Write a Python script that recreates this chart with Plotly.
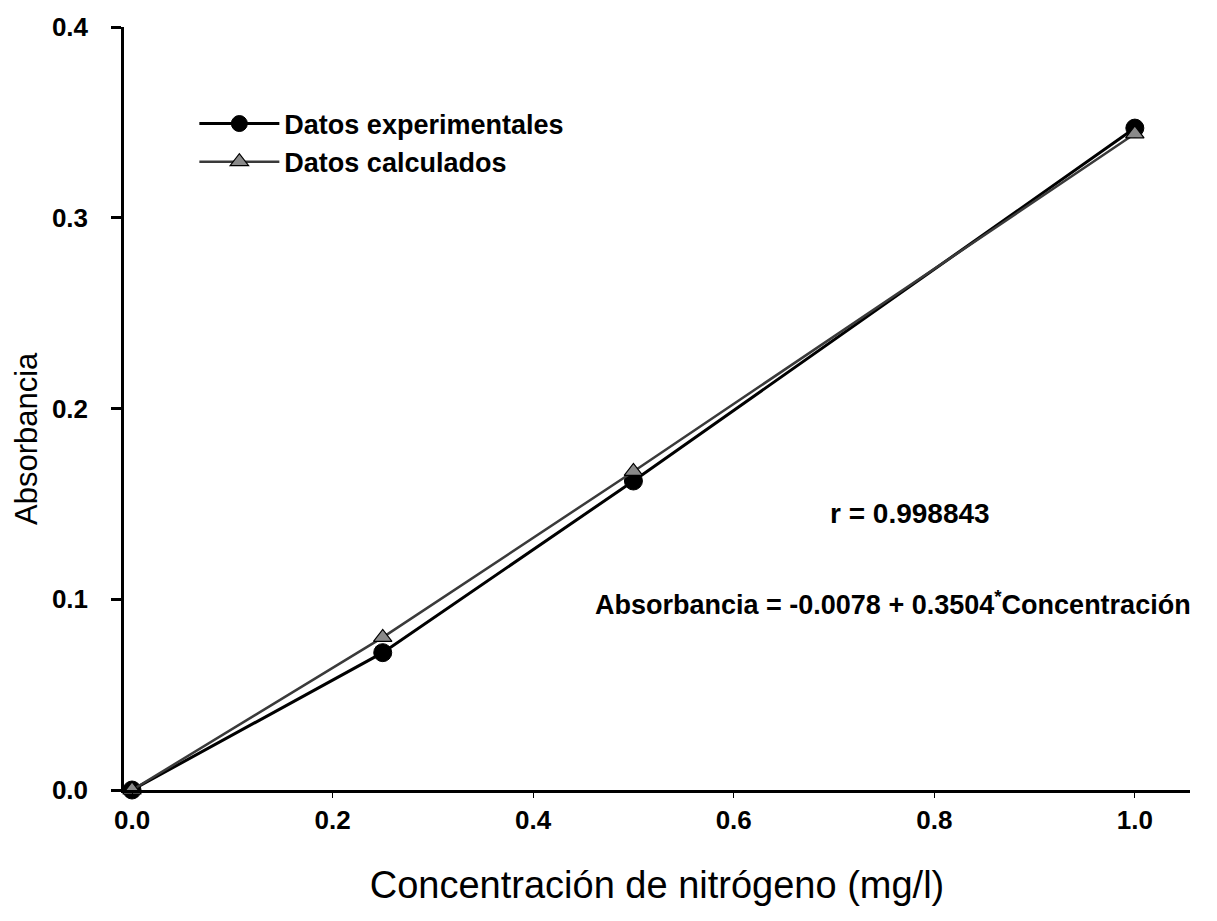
import plotly.graph_objects as go

# Calibration data: nitrogen concentration vs. absorbance
concentracion = [0.0, 0.25, 0.5, 1.0]
abs_experimental = [0.0, 0.072, 0.162, 0.347]
abs_calculada = [0.0, 0.080, 0.167, 0.344]

x_ticks = [0.0, 0.2, 0.4, 0.6, 0.8, 1.0]
y_ticks = [0.0, 0.1, 0.2, 0.3, 0.4]

texto_r = "r = 0.998843"
texto_ecuacion = "Absorbancia = -0.0078 + 0.3504<sup>*</sup>Concentración"

FONT = "Liberation Sans, Arial, sans-serif"
NARROW = "Liberation Sans Narrow, Arial Narrow, Liberation Sans, sans-serif"

fig = go.Figure()

fig.add_trace(go.Scatter(
    x=concentracion, y=abs_experimental,
    mode="lines+markers",
    name="<b>Datos experimentales</b>",
    line=dict(color="black", width=3),
    marker=dict(symbol="circle", size=18, color="black",
                line=dict(color="black", width=1)),
    cliponaxis=False,
))

fig.add_trace(go.Scatter(
    x=concentracion, y=abs_calculada,
    mode="lines+markers",
    name="<b>Datos calculados</b>",
    line=dict(color="#3a3a3a", width=2.5),
    marker=dict(symbol="triangle-up", size=16, color="#8a8a8a",
                line=dict(color="black", width=1.2)),
    cliponaxis=False,
))

# Fit statistics
fig.add_annotation(x=0.776, y=0.145, xref="x", yref="y", text=f"<b>{texto_r}</b>",
                   showarrow=False, font=dict(family=NARROW, size=28, color="black"))
fig.add_annotation(x=0.759, y=0.098, xref="x", yref="y", text=f"<b>{texto_ecuacion}</b>",
                   showarrow=False, font=dict(family=NARROW, size=27, color="black"))

# Vertical axis title
fig.add_annotation(x=0.0, y=0.46, xref="paper", yref="paper", xshift=-98,
                   text="Absorbancia", textangle=-90, showarrow=False,
                   xanchor="center", yanchor="middle",
                   font=dict(family=FONT, size=31, color="black"))

fig.update_layout(
    width=1217, height=921,
    margin=dict(l=124, r=27, t=22, b=131),
    paper_bgcolor="white", plot_bgcolor="white",
    font=dict(family=FONT, color="black"),
    showlegend=True,
    legend=dict(x=0.066, y=0.905, xanchor="left", yanchor="top",
                bgcolor="rgba(0,0,0,0)", font=dict(family=FONT, size=27),
                itemwidth=80, tracegroupgap=0),
    xaxis=dict(
        range=[-0.008, 1.055],
        tickvals=x_ticks, ticktext=[f"<b>{v:.1f}</b>" for v in x_ticks],
        showgrid=False, zeroline=False,
        showline=True, linecolor="black", linewidth=2.5,
        ticks="outside", ticklen=5, tickwidth=1, tickcolor="black",
        tickfont=dict(size=26, family=FONT),
        title=dict(text="Concentración de nitrógeno (mg/l)",
                   font=dict(size=38, family=FONT), standoff=38),
    ),
    yaxis=dict(
        range=[0, 0.4],
        tickvals=y_ticks, ticktext=[f"<b>{v:.1f}</b>" for v in y_ticks],
        showgrid=False, zeroline=False,
        showline=True, linecolor="black", linewidth=2.5,
        ticks="outside", ticklen=10, tickwidth=2.5, tickcolor="black",
        tickfont=dict(size=26, family=FONT),
        ticklabelstandoff=18,
    ),
)

fig.write_html("out.html")
